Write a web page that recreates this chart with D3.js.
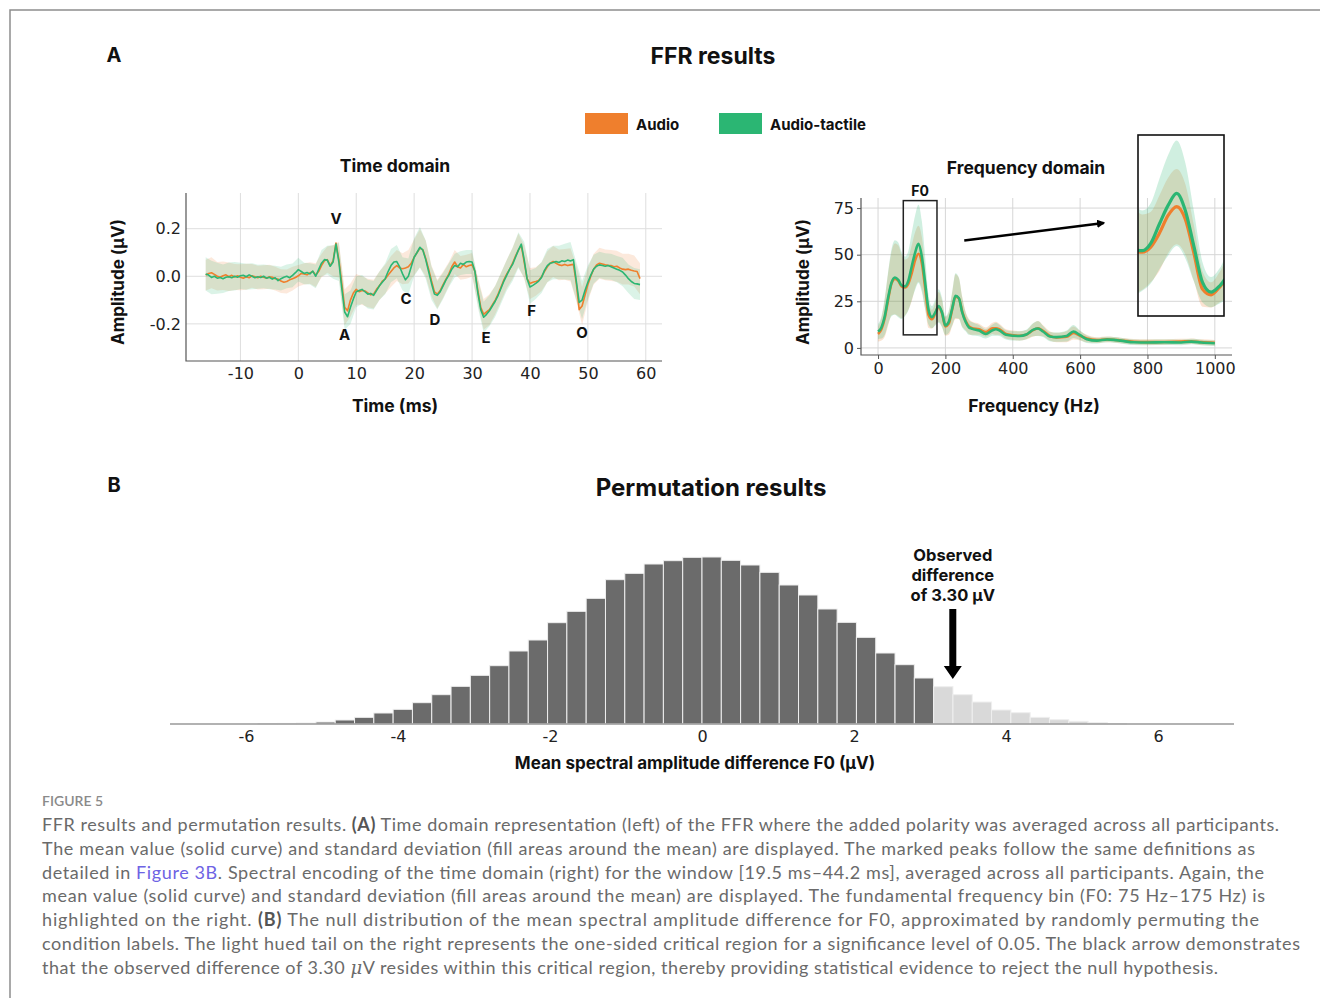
<!DOCTYPE html>
<html>
<head>
<meta charset="utf-8">
<script src="https://cdnjs.cloudflare.com/ajax/libs/d3/7.8.5/d3.min.js"></script>
<style>
  body { margin: 0; background: #fff; }
  svg text { font-family: 'DejaVu Sans', sans-serif; }
  .heading { font-family: Inter, 'Open Sans', sans-serif; font-weight: 700; fill: #111; }
  .tick text { font-family: 'DejaVu Sans', sans-serif; font-size: 16px; fill: #222; }
  .caption { font-family: Lato, 'Open Sans', sans-serif; font-size: 18px; fill: #6a6a6a; }
</style>
</head>
<body>
<svg id="fig" width="1320" height="998"></svg>
<script>
/*
 * Data
 */

// time domain, mean amplitude (uV) every 0.5 ms
const timeMs = [
  -16, -15.5, -15, -14.5, -14, -13.5, -13, -12.5, -12, -11.5, -11, -10.5, -10, -9.5, -9, -8.5,
  -8, -7.5, -7, -6.5, -6, -5.5, -5, -4.5, -4, -3.5, -3, -2.5, -2, -1.5, -1, -0.5,
  0, 0.5, 1, 1.5, 2, 2.5, 3, 3.5, 4, 4.5, 5, 5.5, 6, 6.5, 7, 7.5,
  8, 8.5, 9, 9.5, 10, 10.5, 11, 11.5, 12, 12.5, 13, 13.5, 14, 14.5, 15, 15.5,
  16, 16.5, 17, 17.5, 18, 18.5, 19, 19.5, 20, 20.5, 21, 21.5, 22, 22.5, 23, 23.5,
  24, 24.5, 25, 25.5, 26, 26.5, 27, 27.5, 28, 28.5, 29, 29.5, 30, 30.5, 31, 31.5,
  32, 32.5, 33, 33.5, 34, 34.5, 35, 35.5, 36, 36.5, 37, 37.5, 38, 38.5, 39, 39.5,
  40, 40.5, 41, 41.5, 42, 42.5, 43, 43.5, 44, 44.5, 45, 45.5, 46, 46.5, 47, 47.5,
  48, 48.5, 49, 49.5, 50, 50.5, 51, 51.5, 52, 52.5, 53, 53.5, 54, 54.5, 55, 55.5,
  56, 56.5, 57, 57.5, 58, 58.5, 59
];
const timeTactile = [
  0.010, 0.005, -0.005, 0.000, -0.008, -0.005, -0.010, -0.004, -0.002, -0.006, 0.000, -0.004, 0.002, 0.004, -0.002, 0.006,
  0.000, -0.006, -0.002, -0.005, 0.000, -0.008, -0.004, -0.012, -0.006, -0.018, -0.010, -0.004, 0.000, -0.006, 0.004, 0.015,
  0.028, 0.020, 0.012, 0.016, 0.010, 0.022, 0.000, 0.028, 0.055, 0.070, 0.068, 0.042, 0.060, 0.135, 0.060, -0.050,
  -0.150, -0.170, -0.130, -0.095, -0.065, -0.060, -0.055, -0.065, -0.075, -0.072, -0.080, -0.060, -0.040, -0.025, -0.010, 0.020,
  0.045, 0.060, 0.062, 0.040, 0.010, -0.015, 0.000, 0.040, 0.080, 0.100, 0.122, 0.110, 0.070, 0.020, -0.030, -0.075,
  -0.080, -0.065, -0.040, -0.015, 0.005, 0.030, 0.045, 0.040, 0.055, 0.050, 0.060, 0.062, 0.060, 0.020, -0.070, -0.140,
  -0.172, -0.160, -0.145, -0.125, -0.105, -0.080, -0.050, -0.020, 0.005, 0.030, 0.050, 0.080, 0.110, 0.135, 0.070, -0.010,
  -0.045, -0.038, -0.030, -0.020, -0.005, 0.025, 0.045, 0.055, 0.058, 0.062, 0.058, 0.065, 0.062, 0.068, 0.064, 0.070,
  -0.020, -0.110, -0.100, -0.060, -0.025, 0.005, 0.030, 0.042, 0.048, 0.045, 0.042, 0.045, 0.040, 0.035, 0.030, 0.025,
  0.018, 0.005, -0.010, -0.022, -0.030, -0.032, -0.035
];
const timeAudio = [
  0.005, 0.012, 0.015, 0.008, 0.000, -0.004, 0.002, 0.006, -0.002, 0.004, -0.003, 0.002, -0.004, -0.008, -0.002, -0.006,
  0.002, -0.002, -0.006, 0.000, -0.004, -0.008, -0.002, -0.004, -0.010, -0.012, -0.020, -0.025, -0.022, -0.015, -0.010, -0.005,
  0.002, 0.012, 0.010, 0.006, 0.014, 0.020, 0.005, 0.020, 0.045, 0.065, 0.070, 0.045, 0.065, 0.140, 0.070, -0.030,
  -0.130, -0.145, -0.100, -0.070, -0.055, -0.065, -0.060, -0.062, -0.070, -0.078, -0.075, -0.055, -0.040, -0.020, -0.012, 0.005,
  0.020, 0.035, 0.045, 0.035, 0.032, 0.035, 0.040, 0.055, 0.080, 0.100, 0.118, 0.112, 0.075, 0.030, -0.020, -0.065,
  -0.075, -0.060, -0.035, -0.012, 0.010, 0.040, 0.060, 0.040, 0.035, 0.050, 0.040, 0.045, 0.048, 0.020, -0.060, -0.130,
  -0.160, -0.150, -0.140, -0.120, -0.100, -0.075, -0.045, -0.015, 0.010, 0.030, 0.055, 0.085, 0.110, 0.130, 0.060, -0.010,
  -0.030, -0.025, -0.022, -0.018, -0.002, 0.020, 0.040, 0.055, 0.062, 0.055, 0.048, 0.045, 0.050, 0.045, 0.048, 0.050,
  -0.030, -0.140, -0.125, -0.080, -0.035, 0.000, 0.030, 0.048, 0.055, 0.052, 0.048, 0.046, 0.045, 0.040, 0.042, 0.035,
  0.030, 0.028, 0.030, 0.025, 0.022, 0.020, -0.010
];
// standard deviation, one value per whole ms from -16 to 59
const timeTactileSd = [
  0.070, 0.070, 0.065, 0.060, 0.060, 0.060, 0.055, 0.055, 0.055, 0.050,
  0.050, 0.050, 0.050, 0.050, 0.050, 0.050, 0.050, 0.045, 0.045, 0.050,
  0.055, 0.060, 0.070, 0.080, 0.075, 0.070, 0.065, 0.060, 0.060, 0.060,
  0.060, 0.065, 0.070, 0.070, 0.070, 0.075, 0.080, 0.085, 0.080, 0.070,
  0.060, 0.055, 0.050, 0.050, 0.050, 0.050, 0.050, 0.060, 0.065, 0.065,
  0.065, 0.065, 0.065, 0.070, 0.075, 0.075, 0.070, 0.065, 0.065, 0.070,
  0.070, 0.070, 0.075, 0.080, 0.080, 0.080, 0.070, 0.060, 0.055, 0.055,
  0.055, 0.055, 0.060, 0.060, 0.065, 0.065
];
const timeAudioSd = [
  0.065, 0.065, 0.060, 0.060, 0.060, 0.055, 0.055, 0.055, 0.050, 0.050,
  0.050, 0.050, 0.050, 0.050, 0.050, 0.050, 0.045, 0.045, 0.045, 0.050,
  0.050, 0.055, 0.065, 0.075, 0.075, 0.070, 0.065, 0.060, 0.060, 0.060,
  0.060, 0.060, 0.065, 0.065, 0.065, 0.070, 0.075, 0.080, 0.075, 0.065,
  0.060, 0.055, 0.050, 0.050, 0.050, 0.050, 0.050, 0.055, 0.065, 0.065,
  0.060, 0.060, 0.060, 0.065, 0.070, 0.070, 0.065, 0.060, 0.060, 0.065,
  0.065, 0.065, 0.065, 0.070, 0.075, 0.080, 0.070, 0.065, 0.065, 0.065,
  0.065, 0.065, 0.065, 0.065, 0.065, 0.065
];
const timeTicks = [-10, 0, 10, 20, 30, 40, 50, 60];
const ampTicks = [-0.2, 0, 0.2];
const peakNames = ['V', 'A', 'C', 'D', 'E', 'F', 'O'];
const peakMs = [6.5, 8.0, 18.6, 23.6, 32.4, 40.3, 49.0];
const peakAmp = [0.242, -0.246, -0.095, -0.183, -0.259, -0.145, -0.238];

// frequency domain, spectral amplitude
const freqHz = [
  0, 10, 20, 30, 40, 50, 60, 70, 80, 90,
  100, 110, 120, 130, 140, 150, 160, 170, 180, 190,
  200, 210, 220, 230, 240, 250, 260, 270, 280, 300,
  320, 340, 350, 360, 380, 400, 420, 440, 460, 475,
  490, 510, 530, 560, 580, 600, 620, 650, 680, 700,
  720, 760, 800, 850, 900, 930, 960, 1000
];
const freqTactile = [
  8.8, 11, 17, 27, 35, 37.8, 36.5, 33.5, 33, 36,
  43.7, 51, 55.8, 49, 34.7, 20.4, 16.5, 19, 22.5, 19,
  12, 14, 21, 28, 26.7, 19, 14, 11, 10.2, 9.3,
  7.5, 9.5, 10, 9.4, 7, 6.5, 6.4, 7.2, 9.7, 10.4,
  8.8, 6.1, 5.8, 6.4, 8.8, 6.8, 4.7, 3.9, 4.5, 4.3,
  3.9, 3.0, 2.9, 3.0, 2.9, 3.4, 2.9, 2.5
];
const freqAudio = [
  7.5, 10, 16, 26, 34.5, 37, 36, 33, 32.4, 34.5,
  40, 47, 50.5, 45.5, 32, 17.7, 15.4, 18.5, 22, 18.5,
  11.5, 13, 20.5, 27.5, 26.5, 19.5, 14.5, 11.5, 10.5, 10,
  8.5, 10.5, 10.5, 10, 7.5, 6.8, 6.5, 7, 9.5, 10.5,
  9.2, 6.5, 5.6, 6, 8, 6.5, 5, 4.2, 4.6, 4.4,
  4, 3.3, 3.1, 3.2, 3.4, 3.6, 3.1, 2.8
];
const freqTactileSd = [
  4, 6, 10, 14, 18, 20, 20, 18, 16, 16,
  18, 20, 21, 19, 14, 8, 6, 7, 9, 8,
  5, 6, 9, 12, 11, 8, 5, 4, 3.5, 3,
  2.5, 3, 3.5, 3, 2.5, 2.5, 2.5, 2.5, 3.5, 4,
  3, 2.5, 2.5, 3, 3.5, 2.5, 2, 1.5, 1.5, 1.5,
  1.5, 1.5, 1.5, 1.5, 1.5, 1.5, 1.5, 1.5
];
const freqAudioSd = [
  4, 6, 10, 14, 17, 19, 19, 17, 15, 14,
  15, 15, 15, 14, 11, 7, 5, 6, 8, 7,
  5, 6, 9, 12, 11, 8, 5, 4, 3.5, 3,
  2.5, 3, 3.5, 3, 2.5, 2.5, 2.5, 2.5, 3.5, 4,
  3, 2.5, 2.5, 3, 3.5, 2.5, 2, 1.5, 1.5, 1.5,
  1.5, 1.5, 1.5, 1.5, 1.5, 1.5, 1.5, 1.5
];
const freqTicks = [0, 200, 400, 600, 800, 1000];
const freqAmpTicks = [0, 25, 50, 75];
const f0Band = [75, 175];      // Hz
const f0BoxAmp = [7, 79];      // uV, box height
const arrowFrom = [256, 57.6]; // Hz, uV
const arrowTo = [670, 67];

// permutation histogram
const permBinWidth = 0.254;
const permFirstEdge = -5.842;
const permCounts = [
  1, 2, 3, 6, 12, 20, 33, 44, 64, 88, 113, 146, 175, 219, 252, 304, 338, 377, 433, 452, 480, 490, 500,
  501, 491, 477, 455, 417, 387, 345, 305, 260, 213, 178, 138, 112, 88, 66, 42, 34, 20, 13, 8, 4, 1
];
const criticalValue = 3.048;
const observedDiff = 3.30;
const permTicks = [-6, -4, -2, 0, 2, 4, 6];

const ORANGE = '#ef7f2d';
const GREEN = '#2bb673';

/*
 * Drawing
 */

const svg = d3.select('#fig');

svg.append('path')
  .attr('d', 'M10,998V10H1320')
  .attr('fill', 'none')
  .attr('stroke', '#8d8d8d')
  .attr('stroke-width', 1.5);

function heading(x, y, text, size, anchor) {
  return svg.append('text')
    .attr('class', 'heading')
    .attr('x', x).attr('y', y)
    .attr('text-anchor', anchor || 'middle')
    .attr('dominant-baseline', 'central')
    .style('font-size', size + 'px')
    .text(text);
}

heading(114, 55, 'A', 20);
heading(713, 56, 'FFR results', 23);
heading(114, 485, 'B', 20);
heading(711, 487, 'Permutation results', 24);

// legend
[['Audio', ORANGE, 585], ['Audio-tactile', GREEN, 719]].forEach(function(l) {
  svg.append('rect')
    .attr('x', l[2]).attr('y', 113).attr('width', 43).attr('height', 21)
    .attr('fill', l[1]);
  heading(l[2] + 51, 124, l[0], 15, 'start');
});

/* --- time domain --- */
var td = {left: 186, right: 662, top: 193, bottom: 361};
var xT = d3.scaleLinear().domain([-19.4, 62.8]).range([td.left, td.right]);
var yT = d3.scaleLinear().domain([-0.356, 0.35]).range([td.bottom, td.top]);
var gT = svg.append('g');

gT.selectAll('line.vgrid').data(timeTicks).join('line')
  .attr('class', 'vgrid')
  .attr('x1', d => xT(d)).attr('x2', d => xT(d))
  .attr('y1', td.top).attr('y2', td.bottom)
  .attr('stroke', '#dedede');
gT.selectAll('line.hgrid').data(ampTicks).join('line')
  .attr('class', 'hgrid')
  .attr('x1', td.left).attr('x2', td.right)
  .attr('y1', d => yT(d)).attr('y2', d => yT(d))
  .attr('stroke', '#dedede');

var sdRows = timeMs
  .map((t, i) => ({t: t, a: timeAudio[i], g: timeTactile[i]}))
  .filter(d => Number.isInteger(d.t))
  .map((d, j) => Object.assign(d, {sa: timeAudioSd[j], sg: timeTactileSd[j]}));

gT.append('path')
  .datum(sdRows)
  .attr('fill', ORANGE).attr('fill-opacity', 0.17)
  .attr('d', d3.area().x(d => xT(d.t)).y0(d => yT(d.a - d.sa)).y1(d => yT(d.a + d.sa)));
gT.append('path')
  .datum(sdRows)
  .attr('fill', GREEN).attr('fill-opacity', 0.17)
  .attr('d', d3.area().x(d => xT(d.t)).y0(d => yT(d.g - d.sg)).y1(d => yT(d.g + d.sg)));

[[timeAudio, ORANGE], [timeTactile, GREEN]].forEach(function(s) {
  gT.append('path')
    .datum(timeMs.map((t, i) => [t, s[0][i]]))
    .attr('fill', 'none')
    .attr('stroke', s[1])
    .attr('stroke-width', 1.6)
    .attr('stroke-linejoin', 'round')
    .attr('d', d3.line().x(d => xT(d[0])).y(d => yT(d[1])));
});

gT.selectAll('text.peak').data(peakNames).join('text')
  .attr('class', 'peak heading')
  .attr('x', (d, i) => xT(peakMs[i]))
  .attr('y', (d, i) => yT(peakAmp[i]))
  .attr('text-anchor', 'middle')
  .attr('dominant-baseline', 'central')
  .style('font-size', '15px')
  .text(d => d);

gT.append('g')
  .attr('transform', 'translate(0,' + td.bottom + ')')
  .call(d3.axisBottom(xT).tickValues(timeTicks).tickSize(0).tickPadding(7).tickFormat(d => String(d)))
  .call(g => g.select('.domain').remove());
gT.append('g')
  .attr('transform', 'translate(' + td.left + ',0)')
  .call(d3.axisLeft(yT).tickValues(ampTicks).tickSize(0).tickPadding(5).tickFormat(d => d.toFixed(1)))
  .call(g => g.select('.domain').remove());
gT.append('path')
  .attr('d', 'M' + td.left + ',' + td.top + 'V' + td.bottom + 'H' + td.right)
  .attr('fill', 'none').attr('stroke', '#555').attr('stroke-width', 1.2);

heading(395, 165, 'Time domain', 17.5);
heading(395, 405, 'Time (ms)', 17.5);
heading(118, 282, 'Amplitude (µV)', 17)
  .attr('transform', 'rotate(-90,118,282)');

/* --- frequency domain --- */
var fd = {left: 861, right: 1232, top: 198, bottom: 355};
var xF = d3.scaleLinear().domain([-50.6, 1051]).range([fd.left, fd.right]);
var yF = d3.scaleLinear().domain([-3.8, 80.4]).range([fd.bottom, fd.top]);
var gF = svg.append('g');

gF.selectAll('line.vgrid').data(freqTicks).join('line')
  .attr('class', 'vgrid')
  .attr('x1', d => xF(d)).attr('x2', d => xF(d))
  .attr('y1', fd.top).attr('y2', fd.bottom)
  .attr('stroke', '#d6d6d6');
gF.selectAll('line.hgrid').data(freqAmpTicks).join('line')
  .attr('class', 'hgrid')
  .attr('x1', fd.left).attr('x2', fd.right)
  .attr('y1', d => yF(d)).attr('y2', d => yF(d))
  .attr('stroke', '#d6d6d6');

var fRows = freqHz.map((f, i) => ({
  f: f, a: freqAudio[i], g: freqTactile[i], sa: freqAudioSd[i], sg: freqTactileSd[i]
}));

function drawSpectrum(g, x, y, width) {
  g.append('path').datum(fRows)
    .attr('fill', ORANGE).attr('fill-opacity', 0.22)
    .attr('d', d3.area().curve(d3.curveMonotoneX)
      .x(d => x(d.f)).y0(d => y(d.a - d.sa)).y1(d => y(d.a + d.sa)));
  g.append('path').datum(fRows)
    .attr('fill', GREEN).attr('fill-opacity', 0.22)
    .attr('d', d3.area().curve(d3.curveMonotoneX)
      .x(d => x(d.f)).y0(d => y(d.g - d.sg)).y1(d => y(d.g + d.sg)));
  g.append('path').datum(fRows)
    .attr('fill', 'none').attr('stroke', ORANGE).attr('stroke-width', width)
    .attr('d', d3.line().curve(d3.curveMonotoneX).x(d => x(d.f)).y(d => y(d.a)));
  g.append('path').datum(fRows)
    .attr('fill', 'none').attr('stroke', GREEN).attr('stroke-width', width)
    .attr('d', d3.line().curve(d3.curveMonotoneX).x(d => x(d.f)).y(d => y(d.g)));
}

drawSpectrum(gF, xF, yF, 2.6);

gF.append('g')
  .attr('transform', 'translate(0,' + fd.bottom + ')')
  .call(d3.axisBottom(xF).tickValues(freqTicks).tickSize(4).tickPadding(4).tickFormat(d => String(d)))
  .call(g => g.select('.domain').remove())
  .call(g => g.selectAll('.tick line').attr('stroke', '#555'));
gF.append('g')
  .attr('transform', 'translate(' + fd.left + ',0)')
  .call(d3.axisLeft(yF).tickValues(freqAmpTicks).tickSize(4).tickPadding(3).tickFormat(d => String(d)))
  .call(g => g.select('.domain').remove())
  .call(g => g.selectAll('.tick line').attr('stroke', '#555'));
gF.append('path')
  .attr('d', 'M' + fd.left + ',' + fd.top + 'V' + fd.bottom + 'H' + fd.right)
  .attr('fill', 'none').attr('stroke', '#555').attr('stroke-width', 1.2);

// F0 box
gF.append('rect')
  .attr('x', xF(f0Band[0])).attr('y', yF(f0BoxAmp[1]))
  .attr('width', xF(f0Band[1]) - xF(f0Band[0]))
  .attr('height', yF(f0BoxAmp[0]) - yF(f0BoxAmp[1]))
  .attr('fill', 'none').attr('stroke', '#222').attr('stroke-width', 1.5);
heading(xF(125), 190, 'F0', 14);

// arrow to the inset
svg.append('defs').append('marker')
  .attr('id', 'head')
  .attr('viewBox', '0 0 10 10')
  .attr('refX', 8).attr('refY', 5)
  .attr('markerWidth', 3.2).attr('markerHeight', 3.2)
  .attr('orient', 'auto')
  .append('path').attr('d', 'M0,0L10,5L0,10z').attr('fill', '#000');
gF.append('line')
  .attr('x1', xF(arrowFrom[0])).attr('y1', yF(arrowFrom[1]))
  .attr('x2', xF(arrowTo[0])).attr('y2', yF(arrowTo[1]))
  .attr('stroke', '#000').attr('stroke-width', 2.6)
  .attr('marker-end', 'url(#head)');

// inset: magnified F0 window
var inset = {left: 1138, right: 1224, top: 135, bottom: 316};
var xI = d3.scaleLinear().domain(f0Band).range([inset.left, inset.right]);
var yI = d3.scaleLinear().domain(f0BoxAmp).range([inset.bottom, inset.top]);
svg.append('clipPath').attr('id', 'insetClip')
  .append('rect')
  .attr('x', inset.left).attr('y', inset.top)
  .attr('width', inset.right - inset.left).attr('height', inset.bottom - inset.top);
var gI = svg.append('g').attr('clip-path', 'url(#insetClip)');
drawSpectrum(gI, xI, yI, 3.2);
svg.append('rect')
  .attr('x', inset.left).attr('y', inset.top)
  .attr('width', inset.right - inset.left).attr('height', inset.bottom - inset.top)
  .attr('fill', 'none').attr('stroke', '#111').attr('stroke-width', 1.6);

heading(1026, 167, 'Frequency domain', 17.5);
heading(1034, 405, 'Frequency (Hz)', 17.5);
heading(803, 282, 'Amplitude (µV)', 17)
  .attr('transform', 'rotate(-90,803,282)');

/* --- permutation histogram --- */
var hd = {left: 170, right: 1234, base: 724, top: 557};
var xH = d3.scaleLinear().domain([-7, 7]).range([hd.left, hd.right]);
var yH = d3.scaleLinear().domain([0, d3.max(permCounts)]).range([hd.base, hd.top]);
var bins = permCounts.map((c, i) => ({
  x0: permFirstEdge + i * permBinWidth,
  x1: permFirstEdge + (i + 1) * permBinWidth,
  n: c
}));
var gH = svg.append('g');

gH.selectAll('rect').data(bins).join('rect')
  .attr('x', d => xH(d.x0))
  .attr('width', d => xH(d.x1) - xH(d.x0))
  .attr('y', d => yH(d.n))
  .attr('height', d => hd.base - yH(d.n))
  .attr('fill', d => d.x0 >= criticalValue - 0.01 ? '#d9d9d9' : '#6b6b6b')
  .attr('stroke', '#efefef')
  .attr('stroke-width', 1);

gH.append('line')
  .attr('x1', hd.left).attr('x2', hd.right)
  .attr('y1', hd.base).attr('y2', hd.base)
  .attr('stroke', '#999').attr('stroke-width', 1.5);
gH.append('g')
  .attr('transform', 'translate(0,' + hd.base + ')')
  .call(d3.axisBottom(xH).tickValues(permTicks).tickSize(0).tickPadding(7).tickFormat(d => String(d)))
  .call(g => g.select('.domain').remove());

var ax = xH(observedDiff);
gH.append('path')
  .attr('d', 'M' + (ax - 3.5) + ',609H' + (ax + 3.5) + 'V666H' + (ax + 9) +
             'L' + ax + ',679L' + (ax - 9) + ',666H' + (ax - 3.5) + 'Z')
  .attr('fill', '#000');
['Observed', 'difference', 'of 3.30 µV'].forEach(function(t, i) {
  heading(ax, 555 + i * 20, t, 16.5);
});

heading(695, 763, 'Mean spectral amplitude difference F0 (µV)', 17);

/* --- caption --- */
svg.append('text')
  .attr('x', 42).attr('y', 800)
  .attr('dominant-baseline', 'central')
  .style('font-family', "Lato, 'Open Sans', sans-serif")
  .style('font-size', '14px')
  .style('font-weight', 600)
  .style('fill', '#8a8a8a')
  .text('FIGURE 5');

var captionLines = [
  [['FFR results and permutation results. '], ['(A)', 'b'], [' Time domain representation (left) of the FFR where the added polarity was averaged across all participants.']],
  [['The mean value (solid curve) and standard deviation (fill areas around the mean) are displayed. The marked peaks follow the same definitions as']],
  [['detailed in '], ['Figure 3B', 'link'], ['. Spectral encoding of the time domain (right) for the window [19.5 ms–44.2 ms], averaged across all participants. Again, the']],
  [['mean value (solid curve) and standard deviation (fill areas around the mean) are displayed. The fundamental frequency bin (F0: 75 Hz–175 Hz) is']],
  [['highlighted on the right. '], ['(B)', 'b'], [' The null distribution of the mean spectral amplitude difference for F0, approximated by randomly permuting the']],
  [['condition labels. The light hued tail on the right represents the one-sided critical region for a significance level of 0.05. The black arrow demonstrates']],
  [['that the observed difference of 3.30 '], ['μ', 'i'], ['V resides within this critical region, thereby providing statistical evidence to reject the null hypothesis.']]
];
var captionRight = [1279, 1255, 1264, 1265, 1259, 1300, 1218];

captionLines.forEach(function(parts, i) {
  var t = svg.append('text')
    .attr('class', 'caption')
    .attr('x', 42).attr('y', 824 + i * 23.8)
    .attr('dominant-baseline', 'central');
  parts.forEach(function(p) {
    var s = t.append('tspan').text(p[0]);
    if (p[1] === 'b') s.style('font-weight', 700).style('fill', '#555');
    if (p[1] === 'link') s.style('fill', '#6e63e4');
    if (p[1] === 'i') s.style('font-style', 'italic').style('font-family', "'DejaVu Serif', serif");
  });
  t.attr('textLength', captionRight[i] - 42).attr('lengthAdjust', 'spacing');
});
</script>
</body>
</html>
